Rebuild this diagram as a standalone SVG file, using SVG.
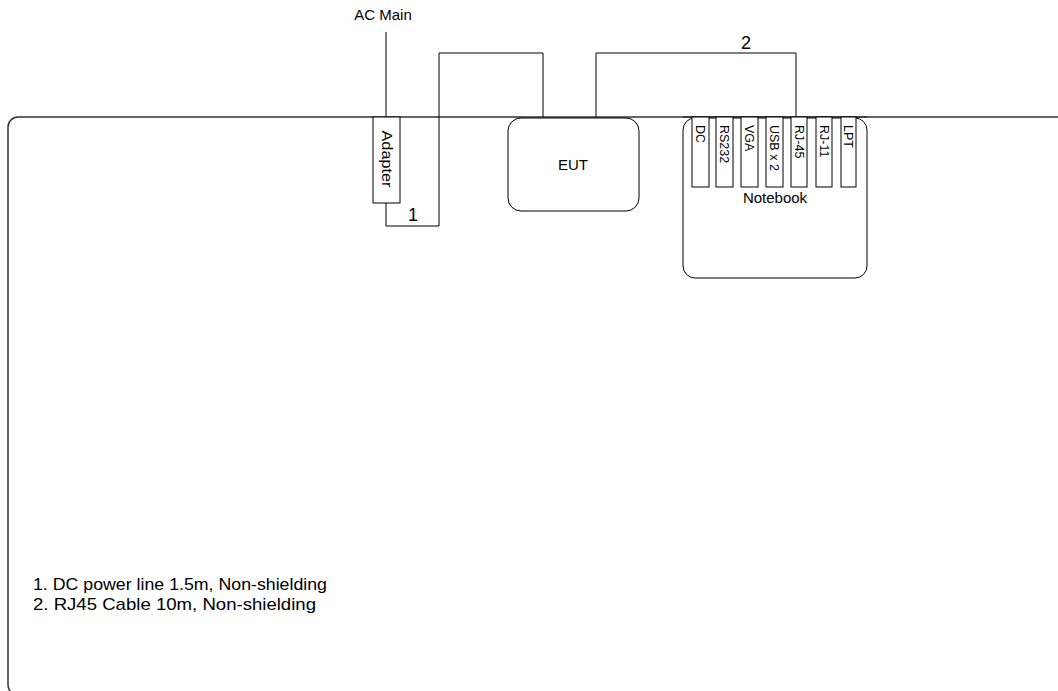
<svg xmlns="http://www.w3.org/2000/svg" width="1058" height="691" viewBox="0 0 1058 691">
<style>
text{font-family:"Liberation Sans",Arial,sans-serif;fill:#000}
.box{fill:#fff;stroke:#000;stroke-width:1}
.wire{fill:none;stroke:#000;stroke-width:1}
.port{font-size:12.5px}
.lbl{font-size:15px}
.num{font-size:18px}
.leg{font-size:17px}
</style>
<rect width="1058" height="691" fill="#fff"/>
<g id="frame">
<rect x="8" y="117" width="1100" height="578" rx="10" ry="10" fill="none" stroke="#333" stroke-width="1.5"/>
</g>
<g id="connectors">
<line class="wire" x1="386" y1="32" x2="386" y2="117"/>
<polyline class="wire" points="386,203 386,226 439,226 439,53 543,53 543,117"/>
<polyline class="wire" points="596,117 596,53 796,53 796,117"/>
</g>
<g id="ac-main">
<text class="lbl" x="383" y="20" text-anchor="middle">AC Main</text>
</g>
<g id="adapter">
<rect class="box" x="373" y="117" width="27" height="86"/>
<text class="lbl" transform="translate(386.5,159) rotate(90)" x="0" y="5" text-anchor="middle" textLength="57" lengthAdjust="spacingAndGlyphs">Adapter</text>
</g>
<g id="label-1"><text class="num" x="413" y="221" text-anchor="middle">1</text></g>
<g id="label-2"><text class="num" x="746" y="49" text-anchor="middle">2</text></g>
<g id="eut">
<rect class="box" x="508" y="118" width="131" height="93" rx="13" ry="13"/>
<text class="lbl" x="573" y="170" text-anchor="middle">EUT</text>
</g>
<g id="notebook">
<rect class="box" x="683" y="118" width="184" height="160" rx="12" ry="12"/>
<line x1="683" y1="117" x2="867" y2="117" stroke="#333" stroke-width="1.5"/>
<text class="lbl" x="775" y="203" text-anchor="middle">Notebook</text>
<g id="port-dc"><rect class="box" x="692" y="117" width="17" height="70"/><text class="port" transform="translate(700.5,125) rotate(90)" x="0" y="4.5">DC</text></g>
<g id="port-rs232"><rect class="box" x="716" y="117" width="17" height="70"/><text class="port" transform="translate(724.5,125) rotate(90)" x="0" y="4.5">RS232</text></g>
<g id="port-vga"><rect class="box" x="741" y="117" width="17" height="70"/><text class="port" transform="translate(749.5,125) rotate(90)" x="0" y="4.5">VGA</text></g>
<g id="port-usb"><rect class="box" x="766" y="117" width="17" height="70"/><text class="port" transform="translate(774.5,125) rotate(90)" x="0" y="4.5">USB x 2</text></g>
<g id="port-rj45"><rect class="box" x="791" y="117" width="16" height="70"/><text class="port" transform="translate(799,125) rotate(90)" x="0" y="4.5">RJ-45</text></g>
<g id="port-rj11"><rect class="box" x="816" y="117" width="16" height="70"/><text class="port" transform="translate(824,125) rotate(90)" x="0" y="4.5">RJ-11</text></g>
<g id="port-lpt"><rect class="box" x="841" y="117" width="15" height="70"/><text class="port" transform="translate(848.5,125) rotate(90)" x="0" y="4.5">LPT</text></g>
</g>
<g id="legend">
<text class="leg" x="33" y="590" textLength="294" lengthAdjust="spacingAndGlyphs">1. DC power line 1.5m, Non-shielding</text>
<text class="leg" x="33" y="610" textLength="283" lengthAdjust="spacingAndGlyphs">2. RJ45 Cable 10m, Non-shielding</text>
</g>
</svg>
